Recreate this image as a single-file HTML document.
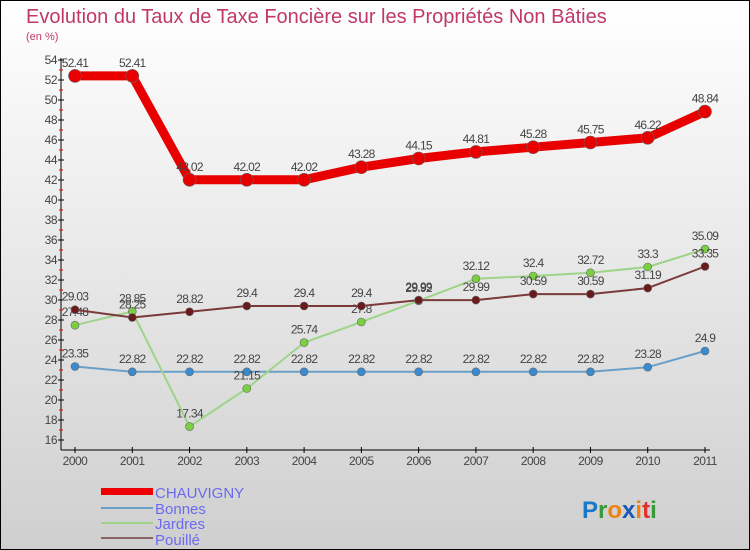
<!DOCTYPE html>
<html><head><meta charset="utf-8"><style>
html,body{margin:0;padding:0}
body{width:750px;height:550px;overflow:hidden;font-family:"Liberation Sans",sans-serif}
#c{position:absolute;left:0;top:0;width:748px;height:548px;border:1px solid #000;background:linear-gradient(#ffffff,#cfcfcf)}
</style></head><body>
<div id="c"></div>
<svg id="s" width="750" height="550" style="position:absolute;left:0;top:0">
<text x="26" y="23" font-size="20" fill="#c0386a">Evolution du Taux de Taxe Foncière sur les Propriétés Non Bâties</text>
<text x="26" y="40" font-size="11" fill="#c0386a">(en %)</text>
<g id="axes"></g><g id="series"></g>
<g>
<rect x="101" y="488" width="52" height="7" fill="#e00"/>
<text x="155" y="498" font-size="15" fill="#6a6af0">CHAUVIGNY</text>
<rect x="101" y="507" width="52" height="2" fill="#6a9fc8"/>
<text x="155" y="514" font-size="15" fill="#6a6af0">Bonnes</text>
<rect x="101" y="522" width="52" height="2" fill="#9ed48a"/>
<text x="155" y="529" font-size="15" fill="#6a6af0">Jardres</text>
<rect x="101" y="537" width="52" height="2" fill="#8a6464"/>
<text x="155" y="545" font-size="15" fill="#6a6af0">Pouillé</text>
</g>
<text x="582" y="518" font-size="24" font-weight="bold"><tspan fill="#1a78c8">P</tspan><tspan fill="#3a9a3a">r</tspan><tspan fill="#f08010">o</tspan><tspan fill="#1a58b8">x</tspan><tspan fill="#f08010">i</tspan><tspan fill="#e03030">t</tspan><tspan fill="#3a9a3a">i</tspan></text>
</svg>
<script>
const years=[2000,2001,2002,2003,2004,2005,2006,2007,2008,2009,2010,2011];
const yTicks=[16,18,20,22,24,26,28,30,32,34,36,38,40,42,44,46,48,50,52,54];
const chauvigny=[52.41,52.41,42.02,42.02,42.02,43.28,44.15,44.81,45.28,45.75,46.22,48.84];
const bonnes=[23.35,22.82,22.82,22.82,22.82,22.82,22.82,22.82,22.82,22.82,23.28,24.9];
const jardres=[27.48,28.85,17.34,21.15,25.74,27.8,29.92,32.12,32.4,32.72,33.3,35.09];
const pouille=[29.03,28.25,28.82,29.4,29.4,29.4,29.99,29.99,30.59,30.59,31.19,33.35];
const NS="http://www.w3.org/2000/svg";
const X=i=>75+i*(630/11), Y=v=>60+(54-v)*10;
function mk(t,a,p){const e=document.createElementNS(NS,t);for(const k in a)e.setAttribute(k,a[k]);p.appendChild(e);return e;}
const ax=document.getElementById('axes');
let e=mk('line',{x1:61,y1:58,x2:61,y2:450,stroke:'#000'},ax);


e=mk('line',{x1:61,y1:450,x2:710,y2:450,stroke:'#000'},ax);


yTicks.forEach(v=>{
 mk('line',{x1:58,x2:64,y1:Y(v),y2:Y(v),stroke:'#000'},ax);
 if(v<54)mk('line',{x1:59,x2:63,y1:Y(v+1),y2:Y(v+1),stroke:'#e00'},ax);
 const t=mk('text',{x:57,y:Y(v)+4,'font-size':12,fill:'#444','text-anchor':'end','letter-spacing':'-0.5'},ax);
 t.textContent=v;
 
 
});
years.forEach((yr,i)=>{
 mk('line',{x1:X(i),x2:X(i),y1:447,y2:453,stroke:'#000'},ax);
 const t=mk('text',{x:X(i),y:465,'font-size':12,fill:'#444','text-anchor':'middle','letter-spacing':'-0.5'},ax);
 t.textContent=yr;
 
 
});
const sg=document.getElementById('series');
function series(name,vals,col,w,r,fill){
 const g=mk('g',{},sg);
 
 
 const l=mk('polyline',{points:vals.map((v,i)=>X(i)+','+Y(v)).join(' '),fill:'none',stroke:col,'stroke-width':w,'stroke-linejoin':'round'},g);
 
 
 vals.forEach((v,i)=>{
  const c=mk('circle',{cx:X(i),cy:Y(v),r:r,fill:fill,stroke:'#666','stroke-width':0.6},g);
  
  
  const t=mk('text',{x:X(i),y:Y(v)-9,'font-size':12,fill:'#444','text-anchor':'middle','letter-spacing':'-0.7'},g);
  t.textContent=String(v);
  
  
 });
}
series('bonnes',bonnes,'#6a9fc8',2,4,'#3a8ad0');
series('jardres',jardres,'#9ed48a',2,4,'#7ad040');
series('pouille',pouille,'#7a3a3a',2,4,'#6a1a1a');
series('chauvigny',chauvigny,'#e80000',9,6.5,'#e80000');
</script>
</body></html>
